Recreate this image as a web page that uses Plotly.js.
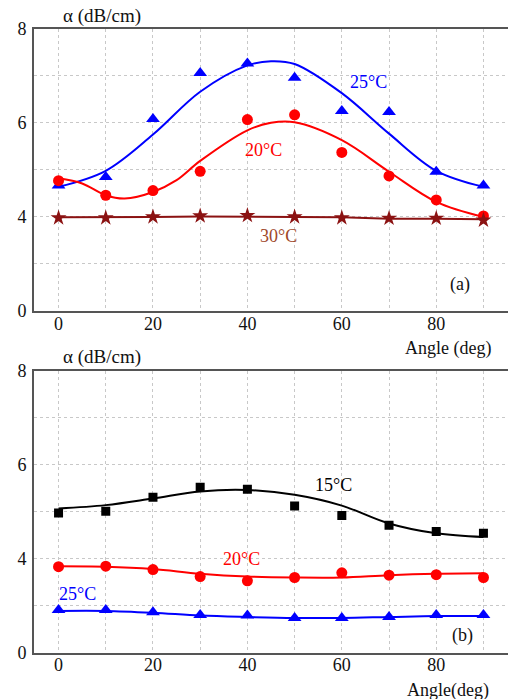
<!DOCTYPE html>
<html>
<head>
<meta charset="utf-8">
<script src="https://cdn.plot.ly/plotly-3.0.1.min.js"></script>
<style>html,body{margin:0;padding:0;background:#fff;}#plot{width:508px;height:699px;}</style>
</head>
<body>
<div id="plot"></div>
<script>
// ---------- data (values in the chart's gridline units; bottom tick labelled "0" sits at 2) ----------
const angles = [0,10,20,30,40,50,60,70,80,90];

// panel (a) measured points
const a25 = [4.67,4.85,6.08,7.06,7.26,6.96,6.25,6.23,4.96,4.67];
const a20 = [4.77,4.46,4.56,4.97,6.07,6.17,5.37,4.87,4.36,4.02];
const a30 = [3.98,3.98,4.00,4.02,4.03,4.00,3.98,3.97,3.97,3.93];
// panel (a) fitted curves
const a25FitX = [0,10,20,30,40,45,50,60,70,80,90];
const a25FitY = [4.64,4.98,5.75,6.66,7.22,7.31,7.25,6.63,5.77,4.98,4.64];
const a20FitX = [0,5,10,14,20,25,30,40,45,50,60,70,80,90];
const a20FitY = [4.82,4.71,4.46,4.39,4.53,4.78,5.19,5.84,6.00,6.01,5.63,4.96,4.32,4.00];
const a30FitY = [3.99,3.99,4.00,4.01,4.01,4.00,3.99,3.96,3.96,3.95];

// panel (b) measured points
const b15 = [4.97,5.01,5.31,5.52,5.48,5.12,4.92,4.71,4.58,4.54];
const b20 = [3.83,3.84,3.77,3.62,3.53,3.60,3.70,3.65,3.66,3.60];
const b25 = [2.91,2.91,2.86,2.80,2.79,2.74,2.74,2.76,2.80,2.80];
// panel (b) fitted curves
const b15Fit = [5.07,5.14,5.28,5.43,5.46,5.36,5.13,4.75,4.54,4.46];
const b20Fit = [3.84,3.83,3.78,3.68,3.62,3.60,3.60,3.65,3.68,3.69];
const b25Fit = [2.89,2.89,2.85,2.79,2.76,2.74,2.74,2.76,2.78,2.78];

const yTickVals = [2,4,6,8];
const yTickText = ['0','4','6','8'];
const xTickVals = [0,20,40,60,80];

// ---------- styles ----------
const BLUE = '#0000ff', RED = '#ff0000', DRED = '#8b1212', BLACK = '#000000';
const FONT = "'Liberation Serif', 'DejaVu Serif', serif";

function fit(x, y, color, xa, ya, shape) {
  return {x: x, y: y, xaxis: xa, yaxis: ya, mode: 'lines', type: 'scatter',
          line: {color: color, width: 2, shape: shape || 'spline', smoothing: 1},
          hoverinfo: 'skip', showlegend: false};
}
function pts(x, y, color, sym, size, xa, ya) {
  return {x: x, y: y, xaxis: xa, yaxis: ya, mode: 'markers', type: 'scatter',
          marker: {color: color, symbol: sym, size: size}, showlegend: false};
}

const traces = [
  fit(a25FitX, a25FitY, BLUE, 'x', 'y'),
  fit(a20FitX, a20FitY, RED, 'x', 'y'),
  fit(angles, a30FitY, DRED, 'x', 'y', 'linear'),
  pts(angles, a25, BLUE, 'triangle-up', 12, 'x', 'y'),
  pts(angles, a20, RED, 'circle', 11, 'x', 'y'),
  pts(angles, a30, DRED, 'star', 12, 'x', 'y'),

  fit(angles, b15Fit, BLACK, 'x2', 'y2'),
  fit(angles, b20Fit, RED, 'x2', 'y2'),
  fit(angles, b25Fit, BLUE, 'x2', 'y2'),
  pts(angles, b15, BLACK, 'square', 9, 'x2', 'y2'),
  pts(angles, b20, RED, 'circle', 11, 'x2', 'y2'),
  pts(angles, b25, BLUE, 'triangle-up', 12, 'x2', 'y2')
];

function xAxis(domainAnchor) {
  return {
    anchor: domainAnchor, range: [-5.2, 95.2], tickvals: xTickVals,
    showgrid: false, zeroline: false,
    showline: true, linecolor: '#555', linewidth: 2, mirror: true,
    ticks: '', ticklen: 0, ticklabelstandoff: -5,
    tickfont: {family: FONT, size: 18, color: '#111'},
    minor: {dtick: 10, tick0: 0, showgrid: true, gridcolor: '#c8c8c8', griddash: 'dot', gridwidth: 1, ticks: ''},
    fixedrange: true
  };
}
function yAxis(domain, anchor) {
  return {
    domain: domain, anchor: anchor, range: [2, 8],
    tickvals: yTickVals, ticktext: yTickText,
    showgrid: false, zeroline: false,
    showline: true, linecolor: '#555', linewidth: 2, mirror: false,
    ticks: '', ticklen: 0, ticklabelstandoff: 2,
    tickfont: {family: FONT, size: 18, color: '#111'},
    minor: {dtick: 1, tick0: 0, showgrid: true, gridcolor: '#c8c8c8', griddash: 'dot', gridwidth: 1, ticks: ''},
    fixedrange: true
  };
}

function lab(text, x, y, color, xref, yref, size) {
  return {text: text, x: x, y: y, xref: xref, yref: yref, showarrow: false,
          font: {family: FONT, size: size || 18, color: color}, xanchor: 'center', yanchor: 'middle'};
}

const layout = {
  width: 508, height: 699,
  margin: {l: 34, r: 0, t: 0, b: 0},
  paper_bgcolor: '#ffffff', plot_bgcolor: '#ffffff',
  showlegend: false,
  xaxis: xAxis('y'),
  yaxis: yAxis([0.5551, 0.9589], 'x'),
  xaxis2: xAxis('y2'),
  yaxis2: yAxis([0.0662, 0.4697], 'x2'),
  annotations: [
    lab('α (dB/cm)', 73/508, 1 - 16/699, '#111', 'paper', 'paper', 19),
    lab('α (dB/cm)', 73/508, 1 - 357/699, '#111', 'paper', 'paper', 19),
    lab('Angle (deg)', 444/508, 1 - 348/699, '#111', 'paper', 'paper', 18),
    lab('Angle(deg)', 444/508, 1 - 690/699, '#111', 'paper', 'paper', 18),
    lab('25°C', 65.7, 6.87, BLUE, 'x', 'y'),
    lab('20°C', 43.4, 5.42, RED, 'x', 'y'),
    lab('30°C', 46.6, 3.59, '#a0482a', 'x', 'y'),
    lab('(a)', 85.1, 2.57, '#111', 'x', 'y'),
    lab('15°C', 58.3, 5.57, BLACK, 'x2', 'y2'),
    lab('20°C', 38.8, 3.99, RED, 'x2', 'y2'),
    lab('25°C', 4.1, 3.25, BLUE, 'x2', 'y2'),
    lab('(b)', 85.5, 2.36, '#111', 'x2', 'y2')
  ]
};

Plotly.newPlot('plot', traces, layout, {displayModeBar: false, staticPlot: true});
</script>
</body>
</html>
